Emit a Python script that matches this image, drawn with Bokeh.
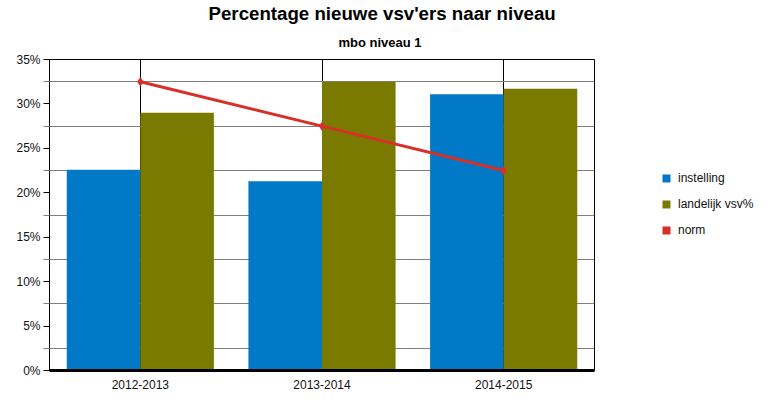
from bokeh.plotting import figure
from bokeh.layouts import row
from bokeh.models import (ColumnDataSource, FactorRange, Range1d, FixedTicker, PrintfTickFormatter,
                          Legend, LegendItem, Title)
from bokeh.transform import dodge
from bokeh.embed import file_html
from bokeh.resources import INLINE

# ---- data ----
years = ["2012-2013", "2013-2014", "2014-2015"]
instelling = [22.6, 21.3, 31.1]
landelijk = [29.0, 32.5, 31.7]
norm = [32.5, 27.5, 22.5]
y_ticks = [0, 5, 10, 15, 20, 25, 30, 35]
grid_ticks = [2.5, 7.5, 12.5, 17.5, 22.5, 27.5, 32.5]
title_text = "Percentage nieuwe vsv'ers naar niveau"
subtitle_text = "mbo niveau 1"
series_names = ["instelling", "landelijk vsv%", "norm"]

BLUE = "#0179C6"
OLIVE = "#7A7A00"
RED = "#D73027"
FONT = "Liberation Sans"

src = ColumnDataSource(dict(year=years, inst=instelling, land=landelijk, norm=norm))

p = figure(width=600, height=405, x_range=FactorRange(*years), y_range=Range1d(0, 35),
           output_backend="svg", toolbar_location=None, title=None,
           min_border_left=49, min_border_right=6, min_border_top=59, min_border_bottom=35)
p.background_fill_color = "white"
p.border_fill_color = "white"
p.outline_line_color = "black"
p.outline_line_width = 1
p.x_range.range_padding = 0

bw = 0.405
p.vbar(x=dodge("year", -bw / 2, range=p.x_range), top="inst", width=bw, source=src,
       fill_color=BLUE, line_color=None)
p.vbar(x=dodge("year", bw / 2, range=p.x_range), top="land", width=bw, source=src,
       fill_color=OLIVE, line_color=None)
p.line(x="year", y="norm", source=src, line_color=RED, line_width=3)
p.scatter(x="year", y="norm", source=src, marker="diamond", size=8, fill_color=RED, line_color=RED)

# grids
p.xgrid.grid_line_color = "black"
p.xgrid.grid_line_width = 1
p.ygrid.ticker = FixedTicker(ticks=grid_ticks)
p.ygrid.grid_line_color = "#808080"
p.ygrid.grid_line_width = 1

# y axis
p.yaxis.ticker = FixedTicker(ticks=y_ticks, minor_ticks=grid_ticks)
p.yaxis.formatter = PrintfTickFormatter(format="%d%%")
p.yaxis.axis_line_color = "black"
p.yaxis.major_tick_line_color = "black"
p.yaxis.major_tick_out = 6
p.yaxis.major_tick_in = 0
p.yaxis.minor_tick_line_color = "#808080"
p.yaxis.minor_tick_out = 6
p.yaxis.minor_tick_in = 0
p.yaxis.major_label_text_font = FONT
p.yaxis.major_label_text_font_size = "12px"
p.yaxis.major_label_text_color = "#111111"
p.yaxis.major_label_standoff = 3

# x axis
p.xaxis.axis_line_color = "black"
p.xaxis.axis_line_width = 3
p.xaxis.major_tick_line_color = None
p.xaxis.minor_tick_line_color = None
p.xaxis.major_label_text_font = FONT
p.xaxis.major_label_text_font_size = "12px"
p.xaxis.major_label_text_color = "#111111"
p.xaxis.major_label_standoff = 3

# titles (subtitle first: closest to the frame)
p.add_layout(Title(text=subtitle_text, text_font=FONT, text_font_style="bold",
                   text_font_size="13px", align="left", offset=289, standoff=19,
                   text_color="black"), "above")
p.add_layout(Title(text=title_text, text_font=FONT, text_font_style="bold",
                   text_font_size="18.7px", align="left", offset=156, standoff=0,
                   padding=(3, 0, 0, 0), text_color="black"), "above")

# legend panel
lg = figure(width=170, height=405, x_range=Range1d(0, 1), y_range=Range1d(0, 1),
            output_backend="svg", toolbar_location=None, title=None,
            min_border_left=0, min_border_right=0, min_border_top=0, min_border_bottom=0)
lg.axis.visible = False
lg.grid.visible = False
lg.outline_line_color = None
lg.background_fill_color = "white"
lg.border_fill_color = "white"
rs = []
for c in [BLUE, OLIVE, RED]:
    rs.append(lg.vbar(x=[5], top=[5], width=0.1, fill_color=c, line_color=None))
legend = Legend(items=[LegendItem(label=n, renderers=[r]) for n, r in zip(series_names, rs)],
                location=(61, 133), glyph_width=10, glyph_height=10, label_height=10,
                spacing=12, padding=0, margin=0, label_standoff=7,
                label_text_font=FONT, label_text_font_size="12px", label_text_color="#111111",
                border_line_color=None, background_fill_alpha=0)
lg.add_layout(legend)

layout = row(p, lg, spacing=0)
open("out.html", "w").write(file_html(layout, INLINE))
